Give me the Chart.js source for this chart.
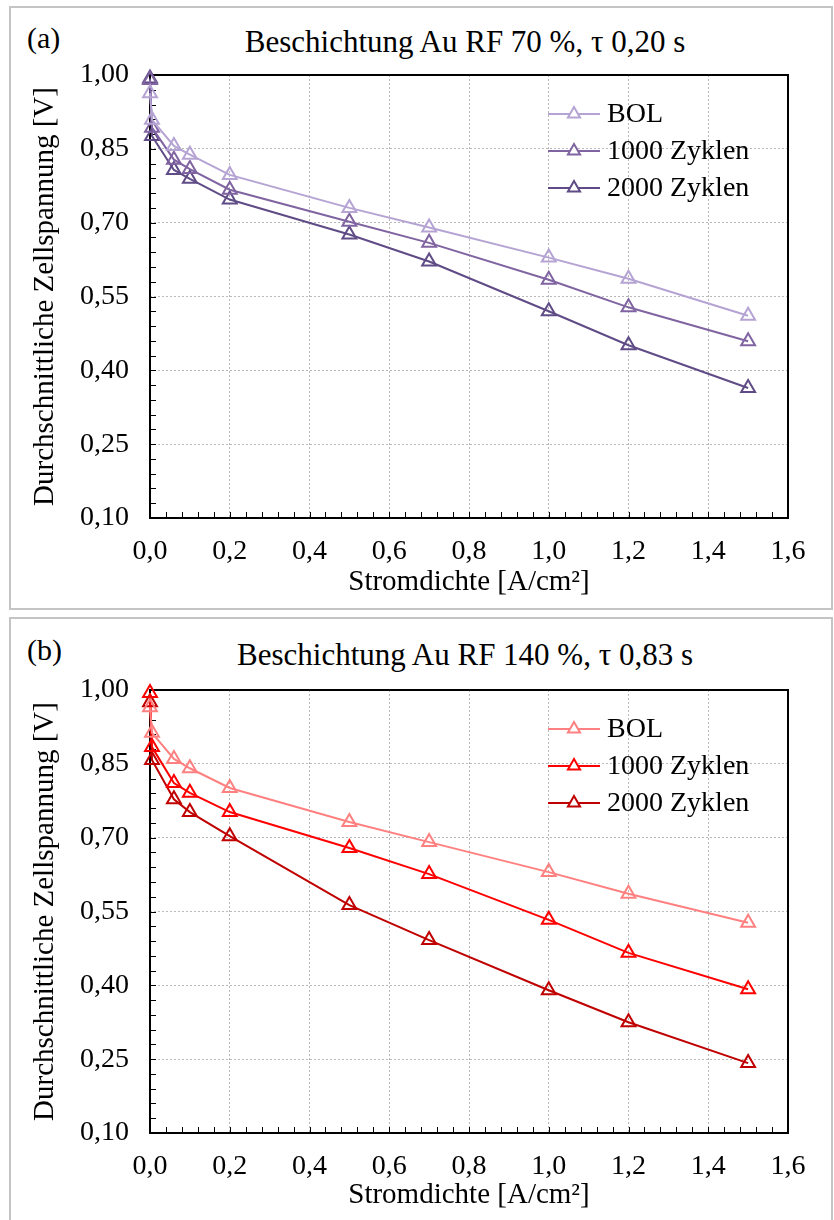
<!DOCTYPE html>
<html><head><meta charset="utf-8">
<script src="https://cdn.jsdelivr.net/npm/chart.js@4/dist/chart.umd.min.js"></script>
<style>
html,body{margin:0;padding:0;background:#fff;}
body{width:834px;height:1220px;position:relative;overflow:hidden;font-family:"Liberation Serif","Times New Roman",serif;color:#000;}
.panel{position:absolute;left:9px;width:824px;border:2px solid #c4c4c4;box-sizing:border-box;}
.cv{position:absolute;left:9px;}
.lab{position:absolute;font-size:30px;line-height:32px;white-space:nowrap;}
.ttl{position:absolute;font-size:31px;line-height:32px;white-space:nowrap;transform:translateX(-50%);}
</style>
</head><body>
<div class="panel" style="top:6px;height:604px;"></div>
<div class="panel" style="top:617px;height:605px;"></div>
<div class="lab" style="left:27px;top:22px;">(a)</div>
<div class="ttl" style="left:465px;top:26px;">Beschichtung Au RF 70 %, τ 0,20 s</div>
<div class="lab" style="left:27px;top:634px;">(b)</div>
<div class="ttl" style="left:465px;top:639px;">Beschichtung Au RF 140 %, τ 0,83 s</div>
<div class="cv" style="top:8px;width:823px;height:600px;"><canvas id="cA" width="823" height="600"></canvas></div>
<div class="cv" style="top:619px;width:823px;height:600px;"><canvas id="cB" width="823" height="600"></canvas></div>
<script>
// ---- data ----
const xValues = [0, 0.005, 0.06, 0.1, 0.2, 0.5, 0.7, 1.0, 1.2, 1.5];
const seriesLabels = ['BOL', '1000 Zyklen', '2000 Zyklen'];
const a_BOL  = [0.963, 0.909, 0.856, 0.838, 0.797, 0.730, 0.690, 0.629, 0.586, 0.511];
const a_1000 = [0.990, 0.893, 0.828, 0.809, 0.767, 0.702, 0.659, 0.584, 0.528, 0.459];
const a_2000 = [0.993, 0.876, 0.807, 0.789, 0.747, 0.676, 0.621, 0.520, 0.451, 0.364];
const b_BOL  = [0.965, 0.913, 0.860, 0.841, 0.801, 0.732, 0.691, 0.630, 0.586, 0.527];
const b_1000 = [0.994, 0.884, 0.811, 0.791, 0.752, 0.679, 0.626, 0.533, 0.466, 0.392];
const b_2000 = [0.975, 0.858, 0.778, 0.752, 0.703, 0.563, 0.492, 0.390, 0.325, 0.242];
const colorsA = ['#b5a4d3', '#8064a2', '#5f4b86'];
const colorsB = ['#ff8080', '#ff0000', '#c00000'];
const xTitle = 'Stromdichte [A/cm²]';
const yTitle = 'Durchschnittliche Zellspannung [V]';
const yMin = 0.10, yMax = 1.00, yStep = 0.15, yMinor = 0.03;
const xMin = 0, xMax = 1.6, xStep = 0.2, xMinor = 0.04;
const FONT = '"Liberation Serif","Times New Roman",serif';

Chart.defaults.font.family = FONT;
Chart.defaults.color = '#000';

const decorPlugin = {
  id: 'decor',
  beforeDatasetsDraw(chart) {
    const {ctx, chartArea: a, scales: {x, y}} = chart;
    ctx.save();
    ctx.strokeStyle = '#000';
    ctx.lineWidth = 1;
    const ny = Math.round((yMax - yMin) / yMinor);
    for (let i = 1; i < ny; i++) {
      const py = Math.round(y.getPixelForValue(yMin + i * yMinor)) + 0.5;
      ctx.beginPath(); ctx.moveTo(a.left, py); ctx.lineTo(a.left + 6, py); ctx.stroke();
    }
    const nx = Math.round((xMax - xMin) / xMinor);
    for (let i = 1; i < nx; i++) {
      const px = Math.round(x.getPixelForValue(xMin + i * xMinor)) + 0.5;
      ctx.beginPath(); ctx.moveTo(px, a.bottom); ctx.lineTo(px, a.bottom - 6); ctx.stroke();
    }
    ctx.lineWidth = 2;
    ctx.strokeRect(a.left, a.top, a.right - a.left, a.bottom - a.top);
    ctx.restore();
  },
  afterDraw(chart) {
    const {ctx, chartArea: a} = chart;
    ctx.save();
    chart.data.datasets.forEach((ds, i) => {
      const yy = a.top + 39 + i * 37;
      const x0 = a.right - 240, x1 = x0 + 52;
      ctx.strokeStyle = ds.borderColor; ctx.lineWidth = 2;
      ctx.beginPath(); ctx.moveTo(x0, yy); ctx.lineTo(x1, yy); ctx.stroke();
      ctx.fillStyle = '#fff';
      Chart.helpers.drawPoint(ctx, {pointStyle: 'triangle', radius: 7, borderWidth: 2, rotation: 0}, (x0 + x1) / 2, yy);
      ctx.fillStyle = '#000';
      ctx.font = '28px ' + FONT;
      ctx.textBaseline = 'middle';
      ctx.textAlign = 'left';
      ctx.fillText(ds.label, x1 + 7, yy + 1);
    });
    ctx.restore();
  }
};

function makeChart(id, series, colors, padTop, xAxisH, xTitlePad) {
  const datasets = series.map((vals, i) => ({
    label: seriesLabels[i],
    data: xValues.map((xv, j) => ({x: xv, y: vals[j]})),
    borderColor: colors[i],
    backgroundColor: 'rgba(255,255,255,0)',
    pointStyle: 'triangle',
    pointRadius: 8,
    pointBorderWidth: 2,
    pointBorderColor: colors[i],
    pointBackgroundColor: 'rgba(255,255,255,0)',
    borderWidth: 2,
    tension: 0,
    fill: false,
    clip: false
  }));
  return new Chart(document.getElementById(id), {
    type: 'line',
    data: {datasets},
    plugins: [decorPlugin],
    options: {
      responsive: false,
      animation: false,
      layout: {padding: {top: padTop, right: 44, left: 0, bottom: 0}},
      plugins: {legend: {display: false}, tooltip: {enabled: false}, title: {display: false}},
      scales: {
        x: {
          type: 'linear', min: xMin, max: xMax,
          afterFit(s) { s.height = xAxisH; },
          ticks: {stepSize: xStep, padding: 17, font: {size: 28}, maxRotation: 0,
                  callback: v => v.toFixed(1).replace('.', ',')},
          grid: {color: '#b8b8b8', lineWidth: 1, drawTicks: false},
          border: {display: false, dash: [2, 2]},
          title: {display: true, text: xTitle, font: {size: 29}, padding: {top: 0, bottom: xTitlePad}}
        },
        y: {
          type: 'linear', min: yMin, max: yMax,
          afterFit(s) { s.width = 141; },
          ticks: {stepSize: yStep, padding: 21, font: {size: 28},
                  callback: v => v.toFixed(2).replace('.', ',')},
          grid: {color: '#b8b8b8', lineWidth: 1, drawTicks: false},
          border: {display: false, dash: [2, 2]},
          title: {display: true, text: yTitle, font: {size: 29}, padding: {top: 19, bottom: 0}}
        }
      }
    }
  });
}

makeChart('cA', [a_BOL, a_1000, a_2000], colorsA, 67, 90, 8);
makeChart('cB', [b_BOL, b_1000, b_2000], colorsB, 71, 86, 6);
</script>
</body></html>
